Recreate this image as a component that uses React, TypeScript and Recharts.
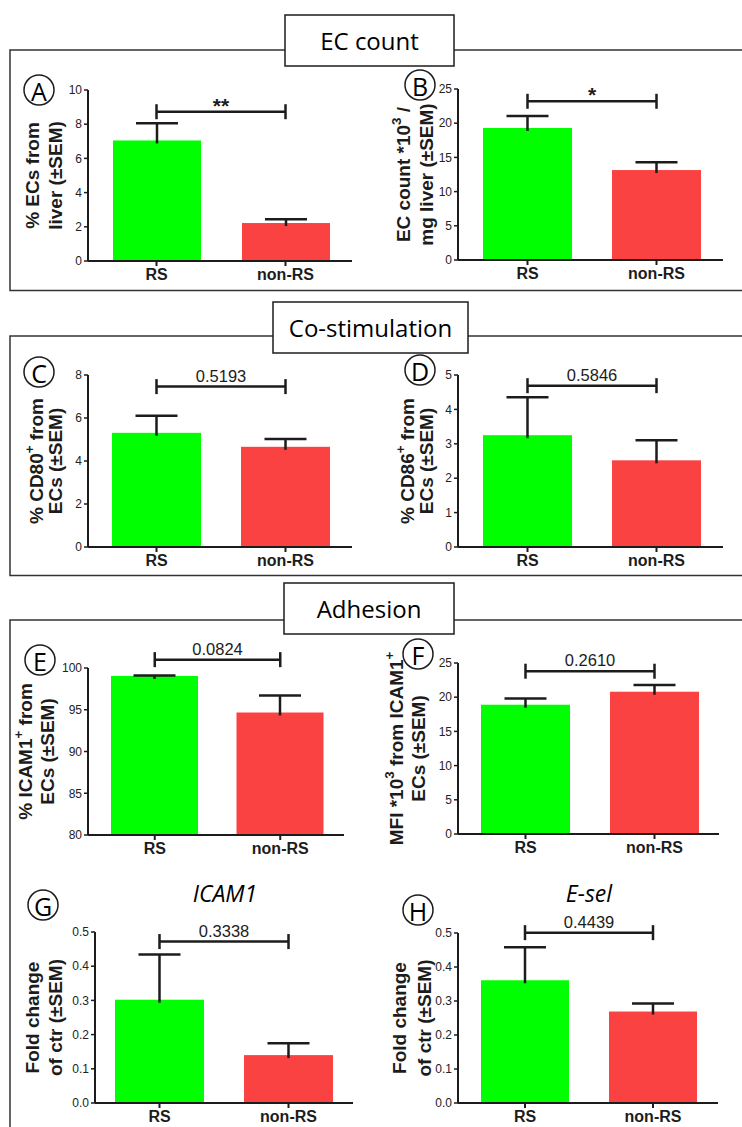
import React from "react";
import { Bar, BarChart, ReferenceLine, XAxis, YAxis } from "recharts";

// ---- values (group means and SEM) ----
const groups = ["RS", "non-RS"];

const ecPercent = [7.05, 2.22];
const ecPercentSem = [1.0, 0.22];
const ecCount = [19.3, 13.15];
const ecCountSem = [1.75, 1.15];
const cd80 = [5.31, 4.66];
const cd80Sem = [0.79, 0.36];
const cd86 = [3.25, 2.52];
const cd86Sem = [1.1, 0.58];
const icamPct = [99.04, 94.67];
const icamPctSem = [0.05, 2.04];
const icamMfi = [18.9, 20.8];
const icamMfiSem = [0.9, 1.0];
const icamFold = [0.302, 0.14];
const icamFoldSem = [0.132, 0.035];
const eselFold = [0.361, 0.269];
const eselFoldSem = [0.097, 0.024];

// comparison labels and where the bracket sits (in axis units)
const pLabels = ["**", "*", "0.5193", "0.5846", "0.0824", "0.2610", "0.3338", "0.4439"];
const bracketAt = [8.73, 23.2, 7.46, 4.69, 101.0, 23.8, 0.472, 0.501];

const ticks10 = [0, 2, 4, 6, 8, 10];
const ticks25 = [0, 5, 10, 15, 20, 25];
const ticks8 = [0, 2, 4, 6, 8];
const ticks5 = [0, 1, 2, 3, 4, 5];
const ticks100 = [80, 85, 90, 95, 100];
const ticksFold = [0, 0.1, 0.2, 0.3, 0.4, 0.5];

// "^" marks the next character as superscript
const yTitles = [
  ["% ECs from", "liver (±SEM)"],
  ["EC count *10^3 /", "mg liver (±SEM)"],
  ["% CD80^+ from", "ECs (±SEM)"],
  ["% CD86^+ from", "ECs (±SEM)"],
  ["% ICAM1^+ from", "ECs (±SEM)"],
  ["MFI *10^3 from ICAM1^+", "ECs (±SEM)"],
  ["Fold change", "of ctr (±SEM)"],
  ["Fold change", "of ctr (±SEM)"],
];

const INK = "#1c1c1c";
const GREEN = "#00ff00";
const RED = "#fa4242";
const SANS = "'Liberation Sans', Arial, sans-serif";
const CAL = "'Open Sans', 'Noto Sans', sans-serif";

const YW = 80; // y axis band width (ticks + rotated title)
const MT = 60; // room above plot for bracket
const XH = 32;
const TITLE_SIZE = 19;

type Panel = {
  letter: string;
  means: number[];
  sems: number[];
  domain: [number, number];
  ticks: number[];
  fmt?: (v: number) => string;
  axisX: number;
  top: number;
  bottom: number;
  right: number;
  pad: [number, number];
  barSize: number;
  titleDx: [number, number];
};

const fold = (v: number) => v.toFixed(1);

const panels: Panel[] = [
  { letter: "A", means: ecPercent, sems: ecPercentSem, domain: [0, 10], ticks: ticks10, axisX: 88, top: 90, bottom: 261, right: 352, pad: [4, 2], barSize: 88, titleDx: [56, 33] },
  { letter: "B", means: ecCount, sems: ecCountSem, domain: [0, 25], ticks: ticks25, axisX: 458, top: 89, bottom: 260, right: 723, pad: [5, 2], barSize: 89, titleDx: [55, 32] },
  { letter: "C", means: cd80, sems: cd80Sem, domain: [0, 8], ticks: ticks8, axisX: 88, top: 375, bottom: 547, right: 352, pad: [4, 2], barSize: 89, titleDx: [52, 33] },
  { letter: "D", means: cd86, sems: cd86Sem, domain: [0, 5], ticks: ticks5, axisX: 458, top: 375, bottom: 547, right: 723, pad: [5, 2], barSize: 89, titleDx: [51, 32] },
  { letter: "E", means: icamPct, sems: icamPctSem, domain: [80, 100], ticks: ticks100, axisX: 88, top: 668, bottom: 835, right: 344, pad: [4, 1], barSize: 87, titleDx: [63, 41] },
  { letter: "F", means: icamMfi, sems: icamMfiSem, domain: [0, 25], ticks: ticks25, axisX: 458, top: 663, bottom: 834, right: 719, pad: [3, 0], barSize: 89, titleDx: [62, 40] },
  { letter: "G", means: icamFold, sems: icamFoldSem, domain: [0, 0.5], ticks: ticksFold, fmt: fold, axisX: 95, top: 932, bottom: 1103, right: 353, pad: [0, 0], barSize: 89, titleDx: [63, 40] },
  { letter: "H", means: eselFold, sems: eselFoldSem, domain: [0, 0.5], ticks: ticksFold, fmt: fold, axisX: 458, top: 933, bottom: 1103, right: 718, pad: [3, 1], barSize: 88, titleDx: [59, 34] },
];

const letterSpots = [
  { l: "A", x: 39, y: 90 },
  { l: "B", x: 420, y: 85 },
  { l: "C", x: 39, y: 372 },
  { l: "D", x: 420, y: 370 },
  { l: "E", x: 40, y: 660 },
  { l: "F", x: 418, y: 654 },
  { l: "G", x: 43, y: 905 },
  { l: "H", x: 418, y: 910 },
];

function richText(s: string, size: number) {
  const parts: React.ReactNode[] = [];
  let buf = "";
  let shifted = false;
  for (let i = 0; i < s.length; i++) {
    if (s[i] === "^" && i + 1 < s.length) {
      if (buf) parts.push(<tspan key={parts.length} dy={shifted ? size * 0.38 : 0}>{buf}</tspan>);
      shifted = false;
      buf = "";
      parts.push(
        <tspan key={parts.length} dy={-size * 0.38} fontSize={size * 0.7}>
          {s[i + 1]}
        </tspan>
      );
      shifted = true;
      i++;
    } else {
      buf += s[i];
    }
  }
  if (buf) parts.push(<tspan key={parts.length} dy={shifted ? size * 0.38 : 0}>{buf}</tspan>);
  return parts;
}

function yTitle(lines: string[], dx: [number, number]) {
  return (props: any) => {
    const vb = props.viewBox || {};
    const cy = vb.y + vb.height / 2;
    const right = vb.x + vb.width;
    return (
      <g>
        {lines.map((ln, i) => {
          const x = right - dx[i];
          return (
            <text
              key={i}
              x={x}
              y={cy}
              transform={`rotate(-90 ${x} ${cy})`}
              textAnchor="middle"
              dominantBaseline="central"
              fontFamily={SANS}
              fontWeight="bold"
              fontSize={TITLE_SIZE}
              fill={INK}
            >
              {richText(ln, TITLE_SIZE)}
            </text>
          );
        })}
      </g>
    );
  };
}

function barWithSem(base: number) {
  return (props: any) => {
    const { x, y, width, height, payload } = props;
    const unit = height / (payload.mean - base);
    const top = y - payload.sem * unit;
    const cx = x + width / 2;
    return (
      <g>
        <rect x={x} y={y} width={width} height={height} fill={payload.group === "RS" ? GREEN : RED} />
        <line x1={cx} x2={cx} y1={y + 3} y2={top} stroke={INK} strokeWidth={2.5} />
        <line x1={cx - 21} x2={cx + 21} y1={top} y2={top} stroke={INK} strokeWidth={2.5} />
      </g>
    );
  };
}

function bracket(label: string) {
  const stars = label.startsWith("*");
  return (p: any) => {
    const { x1, x2, y1 } = p;
    const mid = (x1 + x2) / 2;
    return (
      <g>
        <line x1={x1} x2={x2} y1={y1} y2={y1} stroke={INK} strokeWidth={2.5} />
        <line x1={x1} x2={x1} y1={y1 - 7.5} y2={y1 + 7.5} stroke={INK} strokeWidth={2.5} />
        <line x1={x2} x2={x2} y1={y1 - 7.5} y2={y1 + 7.5} stroke={INK} strokeWidth={2.5} />
        <text
          x={mid}
          y={stars ? y1 + 1 : y1 - 5}
          textAnchor="middle"
          fontFamily={SANS}
          fontWeight={stars ? "bold" : "normal"}
          fontSize={stars ? 21 : 16.5}
          fill={INK}
        >
          {label}
        </text>
      </g>
    );
  };
}

function PanelChart({ p, idx }: { p: Panel; idx: number }) {
  const data = groups.map((g, i) => ({ group: g, mean: p.means[i], sem: p.sems[i] }));
  const width = YW + (p.right - p.axisX) + 2;
  const height = MT + (p.bottom - p.top) + XH;
  const axisStroke = { stroke: INK, strokeWidth: 2 };
  return (
    <div style={{ position: "absolute", left: p.axisX - YW, top: p.top - MT }}>
      <BarChart width={width} height={height} data={data} margin={{ top: MT, right: 2, bottom: 0, left: 0 }}>
        <XAxis
          dataKey="group"
          height={XH}
          padding={{ left: p.pad[0], right: p.pad[1] }}
          axisLine={axisStroke}
          tickLine={axisStroke}
          tickSize={5}
          tickMargin={3}
          tick={{ fontFamily: SANS, fontWeight: "bold", fontSize: 16, fill: INK }}
        />
        <YAxis
          type="number"
          width={YW}
          domain={p.domain}
          ticks={p.ticks}
          interval={0}
          allowDataOverflow
          tickFormatter={(v) => (p.fmt ? p.fmt(Number(v)) : String(v))}
          axisLine={axisStroke}
          tickLine={{ stroke: INK, strokeWidth: 1.5 }}
          tickSize={4}
          tickMargin={2}
          tick={{ fontFamily: SANS, fontSize: 12, fill: "#222" }}
          label={{ content: yTitle(yTitles[idx], p.titleDx) } as any}
        />
        <Bar dataKey="mean" barSize={p.barSize} isAnimationActive={false} shape={barWithSem(p.domain[0])} />
        <ReferenceLine
          segment={[
            { x: groups[0], y: bracketAt[idx] },
            { x: groups[1], y: bracketAt[idx] },
          ]}
          ifOverflow="visible"
          shape={bracket(pLabels[idx])}
        />
      </BarChart>
    </div>
  );
}

function TitleBox({ x, y, w, h, text }: { x: number; y: number; w: number; h: number; text: string }) {
  return (
    <g>
      <rect x={x} y={y} width={w} height={h} fill="#fff" stroke={INK} strokeWidth={1.5} />
      <text x={x + w / 2} y={y + h / 2} textAnchor="middle" dominantBaseline="central" fontFamily={CAL} fontSize={24} fill="#000">
        {text}
      </text>
    </g>
  );
}

export default function App() {
  return (
    <div style={{ position: "absolute", left: 0, top: 0, width: 742, height: 1127, overflow: "hidden", background: "#fff" }}>
      <svg width={742} height={1127} style={{ position: "absolute", left: 0, top: 0 }}>
        <rect x={10} y={50} width={800} height={240.5} fill="none" stroke="#333" strokeWidth={1.5} />
        <rect x={10} y={336} width={800} height={239.5} fill="none" stroke="#333" strokeWidth={1.5} />
        <rect x={10} y={620} width={800} height={600} fill="none" stroke="#333" strokeWidth={1.5} />
        <TitleBox x={285} y={15} w={169} h={51} text="EC count" />
        <TitleBox x={273} y={302} w={195} h={51} text="Co-stimulation" />
        <TitleBox x={284} y={583} w={170} h={51} text="Adhesion" />
        {letterSpots.map((s) => (
          <g key={s.l}>
            <circle cx={s.x} cy={s.y} r={15} fill="none" stroke={INK} strokeWidth={1.5} />
            <text x={s.x} y={s.y + 1} textAnchor="middle" dominantBaseline="central" fontFamily={CAL} fontSize={25} fill="#000">
              {s.l}
            </text>
          </g>
        ))}
        <text x={225} y={893} textAnchor="middle" dominantBaseline="central" fontFamily={CAL} fontStyle="italic" fontSize={23} fill="#000">
          ICAM1
        </text>
        <text x={589} y={893} textAnchor="middle" dominantBaseline="central" fontFamily={CAL} fontStyle="italic" fontSize={23} fill="#000">
          E-sel
        </text>
      </svg>
      {panels.map((p, i) => (
        <PanelChart key={p.letter} p={p} idx={i} />
      ))}
    </div>
  );
}
